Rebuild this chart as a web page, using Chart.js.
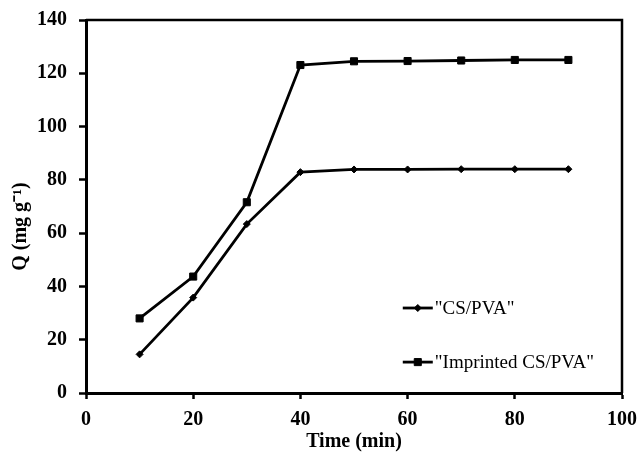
<!DOCTYPE html>
<html>
<head>
<meta charset="utf-8">
<script src="https://cdn.jsdelivr.net/npm/chart.js@4/dist/chart.umd.min.js"></script>
<style>
  html, body { margin: 0; padding: 0; background: #fff; }
  #wrap { width: 638px; height: 454px; }
</style>
</head>
<body>
<div id="wrap"><canvas id="chart" width="638" height="454"></canvas></div>
<script>
// data
const times = [10, 20, 30, 40, 50, 60, 70, 80, 90];
const csPva = [14.5, 35.8, 63.4, 82.9, 83.9, 83.9, 84.0, 84.0, 84.0];
const imprinted = [28.0, 43.7, 71.6, 123.1, 124.5, 124.6, 124.8, 125.0, 125.0];
const labels = ['"CS/PVA"', '"Imprinted CS/PVA"'];
const yTitle = 'Q (mg g⁻¹)';

const serif = '"Liberation Serif", "Times New Roman", serif';

function toPoints(ys) {
  return times.map((t, i) => ({ x: t, y: ys[i] }));
}

// box on top/right, y title, legend inside the plot
const frameAndLegend = {
  id: 'frameAndLegend',
  afterDraw(chart) {
    const ctx = chart.ctx;
    const a = chart.chartArea;
    const xs = chart.scales.x, ys = chart.scales.y;
    ctx.save();
    ctx.strokeStyle = '#000';
    ctx.lineWidth = 2.5;
    ctx.beginPath();
    ctx.moveTo(a.left, a.top);
    ctx.lineTo(a.right, a.top);
    ctx.lineTo(a.right, a.bottom);
    ctx.stroke();

    // y axis title, sits a bit below the middle like the original
    ctx.save();
    ctx.translate(21, (a.top + a.bottom) / 2 + 20);
    ctx.rotate(-Math.PI / 2);
    ctx.font = 'bold 20px ' + serif;
    ctx.fillStyle = '#000';
    ctx.textAlign = 'center';
    ctx.textBaseline = 'middle';
    ctx.fillText(yTitle, 0, 0);
    ctx.restore();

    const rows = [
      { y: 31.9, style: 'rectRot', r: 3.5 },
      { y: 11.6, style: 'rect', r: 5 }
    ];
    rows.forEach((row, i) => {
      const py = ys.getPixelForValue(row.y);
      const x0 = xs.getPixelForValue(59.1);
      const x1 = xs.getPixelForValue(64.7);
      ctx.lineWidth = 2.8;
      ctx.beginPath();
      ctx.moveTo(x0, py);
      ctx.lineTo(x1, py);
      ctx.stroke();
      ctx.fillStyle = '#000';
      ctx.lineWidth = 1;
      Chart.helpers.drawPoint(ctx, { pointStyle: row.style, radius: row.r, borderWidth: 1 }, (x0 + x1) / 2, py);
      ctx.font = '19px ' + serif;
      ctx.textAlign = 'left';
      ctx.textBaseline = 'middle';
      ctx.fillText(labels[i], x1 + 2, py + 1);
    });
    ctx.restore();
  }
};

new Chart(document.getElementById('chart'), {
  type: 'scatter',
  data: {
    datasets: [
      {
        label: labels[0],
        data: toPoints(csPva),
        showLine: true,
        borderColor: '#000',
        backgroundColor: '#000',
        borderWidth: 2.8,
        pointStyle: 'rectRot',
        pointRadius: 3.5,
        pointBorderWidth: 1
      },
      {
        label: labels[1],
        data: toPoints(imprinted),
        showLine: true,
        borderColor: '#000',
        backgroundColor: '#000',
        borderWidth: 2.8,
        pointStyle: 'rect',
        pointRadius: 5,
        pointBorderWidth: 1
      }
    ]
  },
  options: {
    responsive: false,
    animation: false,
    layout: { padding: { left: 0, top: 20, right: 16, bottom: 0 } },
    plugins: {
      legend: { display: false },
      tooltip: { enabled: false }
    },
    scales: {
      x: {
        type: 'linear',
        min: 0, max: 100,
        ticks: { stepSize: 20, color: '#000', font: { family: serif, size: 20, weight: 'bold' }, padding: 9, maxRotation: 0 },
        grid: { display: true, drawOnChartArea: false, drawTicks: true, tickLength: 6, tickWidth: 2.5, tickColor: '#000' },
        border: { display: true, color: '#000', width: 3 },
        title: { display: true, text: 'Time (min)', color: '#000', font: { family: serif, size: 20, weight: 'bold' }, padding: { top: 0, bottom: 0 } },
        afterFit(scale) {
          scale.height = 61;
          scale.paddingLeft = 0;
          scale.paddingRight = 0;
        }
      },
      y: {
        type: 'linear',
        min: 0, max: 140,
        ticks: { stepSize: 20, color: '#000', font: { family: serif, size: 20, weight: 'bold' }, padding: 12 },
        grid: { display: true, drawOnChartArea: false, drawTicks: true, tickLength: 7, tickWidth: 2.5, tickColor: '#000' },
        border: { display: true, color: '#000', width: 3 },
        afterFit(scale) {
          scale.width = 86;
          scale.paddingTop = 0;
          scale.paddingBottom = 0;
        }
      }
    }
  },
  plugins: [frameAndLegend]
});
</script>
</body>
</html>
